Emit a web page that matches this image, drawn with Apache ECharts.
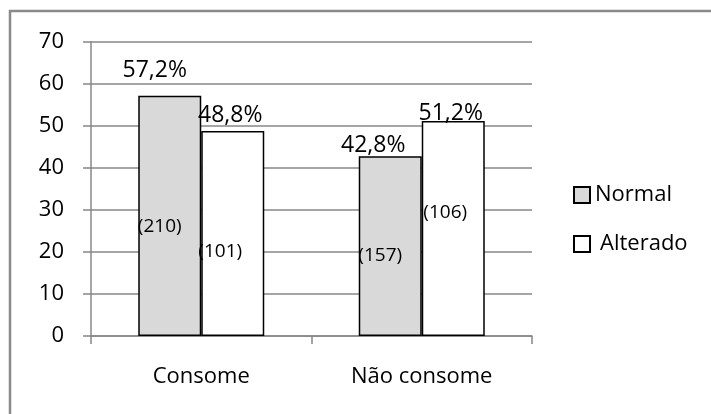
<!DOCTYPE html>
<html>
<head>
<meta charset="utf-8">
<script src="https://cdn.jsdelivr.net/npm/echarts@6/dist/echarts.min.js"></script>
<style>
  html, body { margin: 0; padding: 0; background: #fff; }
  #chart { width: 711px; height: 414px; }
</style>
</head>
<body>
<div id="chart"></div>
<script>
// Categories and values (percent of each group)
const categories = ['Consome', 'Não consome'];
const seriesNames = ['Normal', 'Alterado'];
const normalPct = [57.2, 42.8];
const alteradoPct = [48.8, 51.2];

// Counts (n) per bar
const normalN = [210, 157];
const alteradoN = [101, 106];

// Y axis tick labels
const yTicks = [0, 10, 20, 30, 40, 50, 60, 70];

// Hand-tuned label offsets per bar
const normalPctOffset = [[-15, -13], [-17, 1]];
const alteradoPctOffset = [[-2.5, -4], [-2.5, 4]];
const normalCountOffset = [[-10, 11], [-10, 9]];
const alteradoCountOffset = [[-12.5, 18.5], [-8, -15.5]];

const FONT = '"Open Sans", "DejaVu Sans", sans-serif';
const GRAY = '#878787';

const fmtPct = v => v.toFixed(1).replace('.', ',') + '%';

function barData(values, counts, countOffsets) {
  return values.map((v, i) => ({
    value: v,
    count: counts[i],
    label: { offset: countOffsets[i] }
  }));
}

function pctMarks(values, offsets) {
  return values.map((v, i) => ({
    coord: [categories[i], v],
    value: v,
    label: { offset: offsets[i] }
  }));
}

function makeSeries(name, values, counts, countOffsets, pctOffsets, fill) {
  return {
    name: name,
    type: 'bar',
    barWidth: 63,
    barGap: '0%',
    data: barData(values, counts, countOffsets),
    itemStyle: { color: fill, borderColor: '#000', borderWidth: 1.5 },
    label: {
      show: true,
      position: 'inside',
      formatter: p => '(' + p.data.count + ')',
      fontFamily: FONT,
      fontSize: 19,
      color: '#000'
    },
    emphasis: { disabled: true },
    markPoint: {
      symbol: 'circle',
      symbolSize: 1,
      itemStyle: { color: 'transparent' },
      label: {
        show: true,
        position: 'top',
        distance: 0,
        formatter: p => fmtPct(p.value),
        fontFamily: FONT,
        fontSize: 23,
        color: '#000'
      },
      data: pctMarks(values, pctOffsets)
    }
  };
}

const chart = echarts.init(document.getElementById('chart'), null, { renderer: 'canvas' });

chart.setOption({
  animation: false,
  backgroundColor: '#fff',
  textStyle: { fontFamily: FONT },
  graphic: [{
    type: 'rect',
    shape: { x: 10, y: 11, width: 900, height: 600 },
    style: { fill: 'none', stroke: '#8a8a8a', lineWidth: 2.5 },
    silent: true,
    z: 100
  }],
  grid: { left: 91, right: 179, top: 42, bottom: 78, containLabel: false },
  legend: {
    orient: 'vertical',
    left: 568,
    top: 178,
    itemWidth: 16,
    itemHeight: 16,
    itemGap: 25,
    icon: 'rect',
    textStyle: { fontFamily: FONT, fontSize: 22, color: '#000', lineHeight: 24 },
    data: [
      { name: 'Normal' },
      { name: 'Alterado', textStyle: { padding: [0, 0, 0, 5] } }
    ]
  },
  xAxis: {
    type: 'category',
    data: categories,
    axisLine: { lineStyle: { color: GRAY, width: 1.5 } },
    axisTick: { show: true, length: 8, lineStyle: { color: GRAY, width: 1.5 } },
    axisLabel: { fontFamily: FONT, fontSize: 22, color: '#000', margin: 30 }
  },
  yAxis: {
    type: 'value',
    min: yTicks[0],
    max: yTicks[yTicks.length - 1],
    interval: yTicks[1] - yTicks[0],
    axisLine: { show: true, lineStyle: { color: GRAY, width: 1.5 } },
    axisTick: { show: true, length: 8, lineStyle: { color: GRAY, width: 1.5 } },
    splitLine: { lineStyle: { color: GRAY, width: 1.5 } },
    axisLabel: { fontFamily: FONT, fontSize: 22, color: '#000', margin: 27 }
  },
  series: [
    makeSeries(seriesNames[0], normalPct, normalN, normalCountOffset, normalPctOffset, '#d9d9d9'),
    makeSeries(seriesNames[1], alteradoPct, alteradoN, alteradoCountOffset, alteradoPctOffset, '#ffffff')
  ]
});
</script>
</body>
</html>
